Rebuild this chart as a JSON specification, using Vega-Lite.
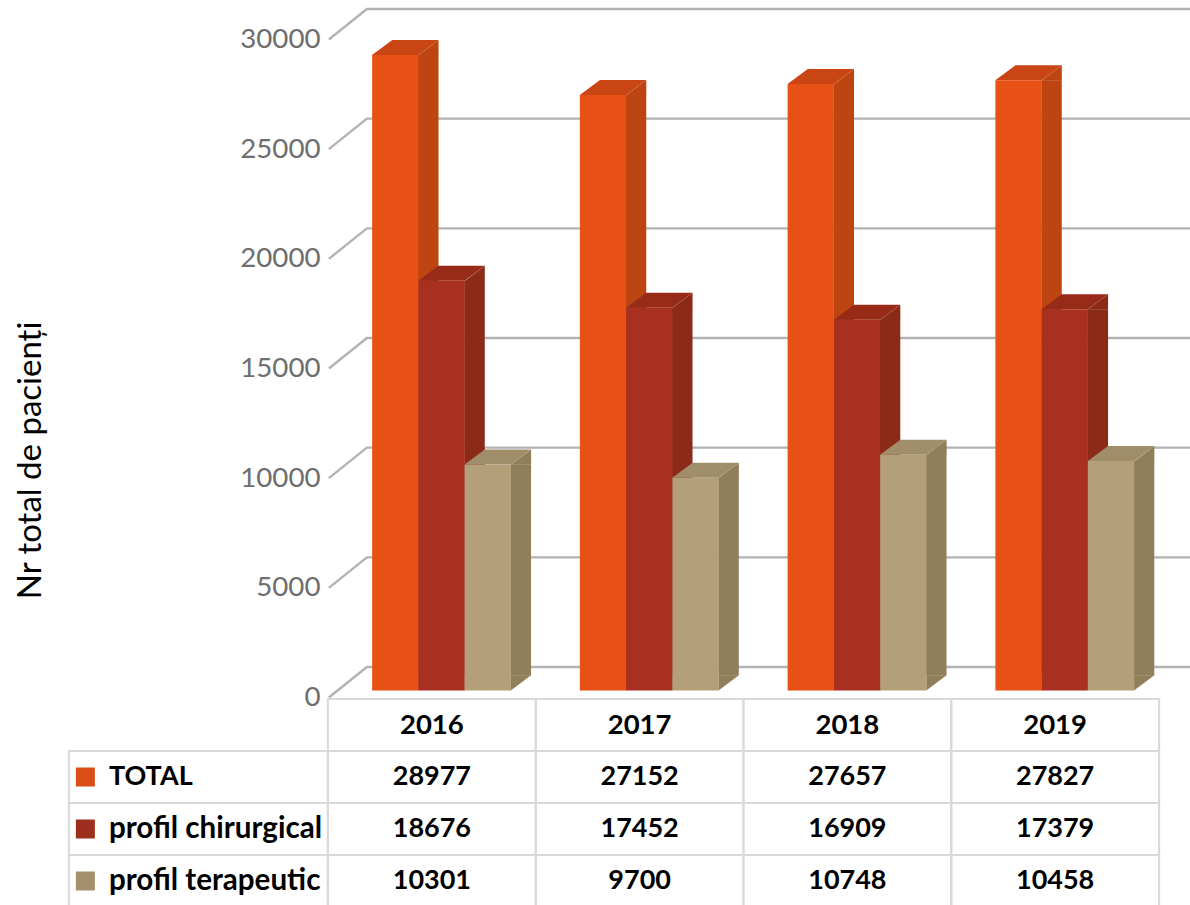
{"$schema":"https://vega.github.io/schema/vega-lite/v6.json","width":1190,"height":905,"autosize":{"type":"none"},"padding":0,"background":"white","config":{"view":{"stroke":null},"font":"Lato"},
"datasets":{"bars":[
{"year":"2016","series":"TOTAL","value":28977},{"year":"2017","series":"TOTAL","value":27152},{"year":"2018","series":"TOTAL","value":27657},{"year":"2019","series":"TOTAL","value":27827},
{"year":"2016","series":"profil chirurgical","value":18676},{"year":"2017","series":"profil chirurgical","value":17452},{"year":"2018","series":"profil chirurgical","value":16909},{"year":"2019","series":"profil chirurgical","value":17379},
{"year":"2016","series":"profil terapeutic","value":10301},{"year":"2017","series":"profil terapeutic","value":9700},{"year":"2018","series":"profil terapeutic","value":10748},{"year":"2019","series":"profil terapeutic","value":10458}],
"ticks":[{"value":0},{"value":5000},{"value":10000},{"value":15000},{"value":20000},{"value":25000},{"value":30000}],
"years":[{"year":"2016"},{"year":"2017"},{"year":"2018"},{"year":"2019"}],
"rows":[{"series":"TOTAL"},{"series":"profil chirurgical"},{"series":"profil terapeutic"}]},
"encoding":{"x":{"field":"year","type":"nominal","title":null,"scale":{"domain":["2016","2017","2018","2019"],"range":[328,1159],"paddingInner":0,"paddingOuter":0},"axis":{"orient":"bottom","offset":-206,"domain":false,"ticks":false,"grid":false,"labelAngle":0,"labelPadding":12,"labelFont":"Lato","labelFontSize":27.5,"labelFontWeight":"bold","labelColor":"#000000"}}},
"layer":[
{"encoding":{"y":{"field":"value","type":"quantitative","scale":{"domain":[0,30000],"range":[690.5,32.5]},"axis":{"orient":"left","offset":-322,"values":[0,5000,10000,15000,20000,25000,30000],"format":"d","domain":false,"ticks":false,"grid":false,"labelPadding":2,"labelOffset":7,"labelFont":"Lato","labelFontSize":27.7,"labelColor":"#6e6e6e","title":"Nr total de pacienți","titleFont":"Lato","titleFontSize":33,"titleFontWeight":"normal","titleColor":"#000000","titleAngle":-90,"titleAlign":"center","titleBaseline":"middle","titleX":-292,"titleY":460}}},
"resolve":{"scale":{"color":"independent","xOffset":"independent"}},
"layer":[
{"data":{"name":"ticks"},"mark":{"type":"point","shape":"M-103,7L-65,-23.5H759","size":4,"filled":false,"stroke":"#b3b3b3","strokeWidth":2.4,"opacity":1},"encoding":{"x":{"datum":"2016","type":"nominal"}}},
{"data":{"name":"bars"},"mark":{"type":"bar","width":20.5,"y2Offset":-15},"encoding":{"xOffset":{"field":"series","sort":null,"scale":{"type":"band","domain":["TOTAL","profil chirurgical","profil terapeutic"],"range":[33,240.75],"paddingInner":0,"paddingOuter":0.745,"align":0.64}},"y2":{"datum":0},"color":{"field":"series","legend":null,"scale":{"domain":["TOTAL","profil chirurgical","profil terapeutic"],"range":["#BC4512","#8C2A18","#917F5C"]}}}},
{"data":{"name":"bars"},"mark":{"type":"point","shape":"M23,0.3L43.3,-15L43.3,0.3Z","size":4,"filled":true,"opacity":1},"encoding":{"xOffset":{"field":"series","sort":null,"scale":{"type":"band","domain":["TOTAL","profil chirurgical","profil terapeutic"],"range":[0,207.75],"paddingInner":0,"paddingOuter":0.745,"align":0.64}},"color":{"field":"series","legend":null,"scale":{"domain":["TOTAL","profil chirurgical","profil terapeutic"],"range":["#BC4512","#8C2A18","#917F5C"]}}}},
{"data":{"name":"bars"},"mark":{"type":"point","shape":"M23,0L43.3,-15.3L23,-15.3Z","size":4,"filled":true,"opacity":1},"encoding":{"y":{"datum":0},"xOffset":{"field":"series","sort":null,"scale":{"type":"band","domain":["TOTAL","profil chirurgical","profil terapeutic"],"range":[0,207.75],"paddingInner":0,"paddingOuter":0.745,"align":0.64}},"color":{"field":"series","legend":null,"scale":{"domain":["TOTAL","profil chirurgical","profil terapeutic"],"range":["#BC4512","#8C2A18","#917F5C"]}}}},
{"data":{"name":"bars"},"mark":{"type":"point","shape":"M-23.2,0L-3,-15H43.3L23.2,0Z","size":4,"filled":true,"opacity":1},"encoding":{"xOffset":{"field":"series","sort":null,"scale":{"type":"band","domain":["TOTAL","profil chirurgical","profil terapeutic"],"range":[0,207.75],"paddingInner":0,"paddingOuter":0.745,"align":0.64}},"color":{"field":"series","legend":null,"scale":{"domain":["TOTAL","profil chirurgical","profil terapeutic"],"range":["#C94514","#982A18","#A08D6A"]}}}},
{"data":{"name":"bars"},"mark":{"type":"bar"},"encoding":{"xOffset":{"field":"series","sort":null,"scale":{"type":"band","domain":["TOTAL","profil chirurgical","profil terapeutic"],"range":[0,207.75],"paddingInner":0,"paddingOuter":0.745,"align":0.64}},"y2":{"datum":0},"color":{"field":"series","legend":null,"scale":{"domain":["TOTAL","profil chirurgical","profil terapeutic"],"range":["#E85115","#A83020","#B39F78"]}}}}
]},
{"encoding":{"y":{"field":"series","type":"nominal","axis":null,"scale":{"domain":["An","TOTAL","profil chirurgical","profil terapeutic"],"range":[699,907],"paddingInner":0,"paddingOuter":0}}},
"layer":[
{"data":{"name":"bars"},"mark":{"type":"point","shape":"M-104,-26H104V26H-104Z","size":4,"filled":false,"stroke":"#d9d9d9","strokeWidth":2,"opacity":1}},
{"data":{"name":"years"},"mark":{"type":"point","shape":"M-104,-26H104V26H-104Z","size":4,"filled":false,"stroke":"#d9d9d9","strokeWidth":2,"opacity":1},"encoding":{"y":{"datum":"An","type":"nominal"}}},
{"data":{"name":"rows"},"mark":{"type":"point","shape":"M-363,-26H-104V26H-363Z","size":4,"filled":false,"stroke":"#d9d9d9","strokeWidth":2,"opacity":1},"encoding":{"x":{"datum":"2016","type":"nominal"}}},
{"data":{"name":"rows"},"mark":{"type":"point","shape":"M-356,-9.5H-337V9.5H-356Z","size":4,"filled":true,"opacity":1},"encoding":{"x":{"datum":"2016","type":"nominal"},"color":{"field":"series","legend":null,"scale":{"domain":["TOTAL","profil chirurgical","profil terapeutic"],"range":["#DC4E18","#9E2E1E","#A58F6C"]}}}},
{"data":{"name":"rows"},"mark":{"type":"text","align":"left","baseline":"middle","dx":-323,"font":"Lato","fontWeight":"bold","color":"#000000"},"encoding":{"x":{"datum":"2016","type":"nominal"},"text":{"field":"series"},"size":{"field":"series","legend":null,"scale":{"type":"ordinal","domain":["TOTAL","profil chirurgical","profil terapeutic"],"range":[27,29.6,29.6]}}}},
{"data":{"name":"bars"},"mark":{"type":"text","align":"center","baseline":"middle","font":"Lato","fontSize":27,"fontWeight":"bold","color":"#000000"},"encoding":{"text":{"field":"value","format":"d"}}}
]}
],
"resolve":{"scale":{"y":"independent","color":"independent"},"axis":{"y":"independent"}}}
